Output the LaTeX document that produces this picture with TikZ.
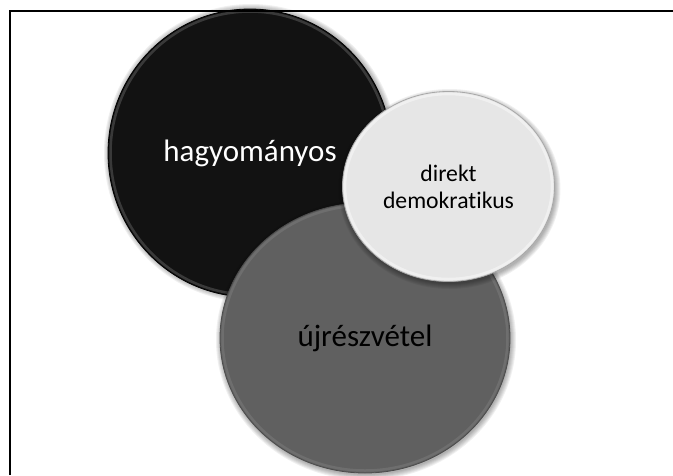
\documentclass[tikz,border=0pt]{standalone}
\usepackage{fontspec}
\setmainfont[Ligatures=NoCommon]{Carlito}
\usetikzlibrary{shapes.geometric}
\definecolor{blackfill}{HTML}{121212}
\definecolor{blackrim}{HTML}{5A5A5A}
\definecolor{grayfill}{HTML}{606060}
\definecolor{grayrim}{HTML}{7A7A7A}
\definecolor{whitefill}{HTML}{E6E6E6}
\definecolor{whiterim}{HTML}{FAFAFA}
\definecolor{whiteedge}{HTML}{A8A8A8}
\tikzset{
  bub/.style={ellipse, inner sep=0pt, align=center},
  bigtext/.style={font=\fontsize{31}{37}\selectfont},
  smalltext/.style={font=\fontsize{23.7}{27}\selectfont},
  shad/.style={fill=black, fill opacity=0.06, draw=none},
  rim/.style={line width=2.5pt, draw opacity=0.55},
}
\begin{document}
\begin{tikzpicture}[x=1pt,y=-1pt]
\useasboundingbox (0,0) rectangle (673,475);
% black circle
\foreach \i in {0,...,5} \fill[shad] (251,153) ellipse ({142+\i} and {144+\i});
\node[bub, bigtext, fill=blackfill, draw=black, line width=0.8pt, text=white,
      minimum width=284pt, minimum height=288pt] (trad) at (250,153) {hagyományos};
\draw[rim, blackrim] (trad.center) ellipse (139.5 and 141.5);
% gray circle
\foreach \i in {0,...,5} \fill[shad] (366,340) ellipse ({145+\i} and {135+\i});
\node[bub, bigtext, fill=grayfill, draw=black!70, line width=0.8pt, text=black,
      minimum width=290pt, minimum height=270pt] (uj) at (365,338) {újrészvétel};
\draw[rim, grayrim] (uj.center) ellipse (142.5 and 132.5);
% white circle
\foreach \i in {0,...,5} \fill[shad] (449.5,189) ellipse ({106+\i} and {95+\i});
\node[bub, smalltext, fill=whitefill, draw=whiteedge, line width=0.8pt, text=black,
      minimum width=212pt, minimum height=190pt] (direkt) at (448.5,186.5) {direkt\\demokratikus};
\draw[rim, whiterim] (direkt.center) ellipse (103.5 and 92.5);
% frame
\draw[line width=1.6pt] (10,475) -- (10,11) -- (673,11);
\end{tikzpicture}
\end{document}
